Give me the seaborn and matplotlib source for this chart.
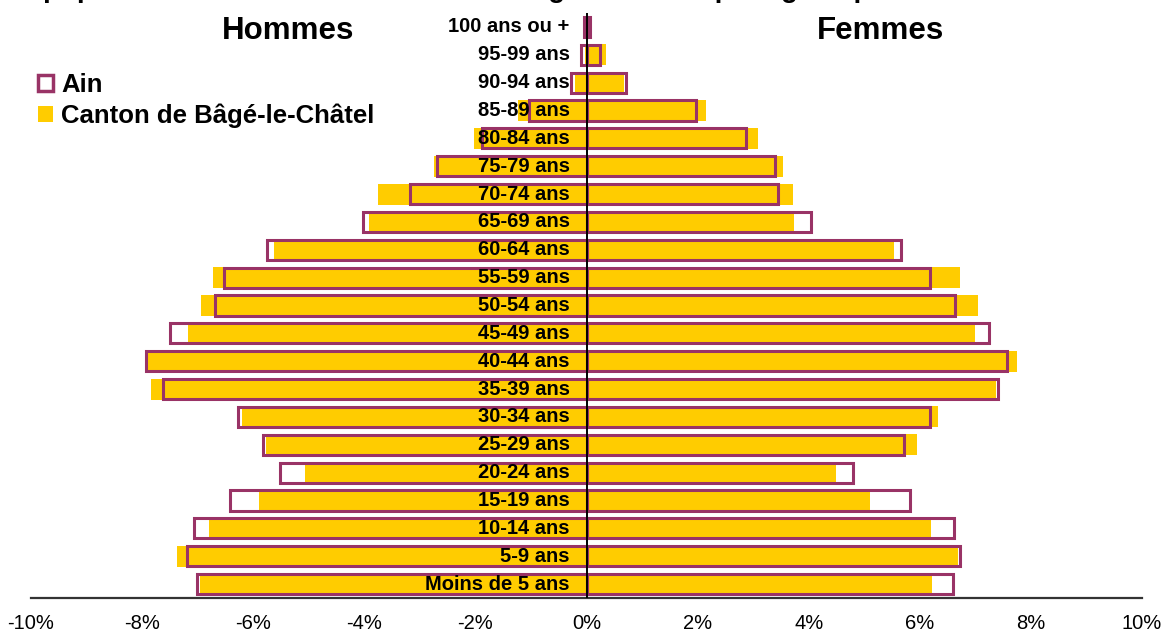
import matplotlib
matplotlib.use("Agg")
import matplotlib.pyplot as plt
from matplotlib.patches import Patch
import seaborn as sns

# Age groups, top to bottom
ages = ["100 ans ou +", "95-99 ans", "90-94 ans", "85-89 ans", "80-84 ans",
        "75-79 ans", "70-74 ans", "65-69 ans", "60-64 ans", "55-59 ans",
        "50-54 ans", "45-49 ans", "40-44 ans", "35-39 ans", "30-34 ans",
        "25-29 ans", "20-24 ans", "15-19 ans", "10-14 ans", "5-9 ans",
        "Moins de 5 ans"]

# Share of population (%)
ain_hommes = [0.05, 0.10, 0.28, 1.04, 1.89, 2.69, 3.17, 4.02, 5.75, 6.52, 6.69,
              7.49, 7.93, 7.63, 6.28, 5.82, 5.52, 6.42, 7.07, 7.19, 7.01]
canton_hommes = [0.0, 0.02, 0.20, 1.24, 2.03, 2.75, 3.75, 3.91, 5.62, 6.73, 6.94,
                 7.18, 7.95, 7.84, 6.21, 5.77, 5.06, 5.90, 6.80, 7.37, 6.95]
ain_femmes = [0.07, 0.25, 0.71, 1.98, 2.87, 3.39, 3.45, 4.04, 5.67, 6.18, 6.63,
              7.25, 7.57, 7.41, 6.18, 5.72, 4.80, 5.83, 6.61, 6.73, 6.59]
canton_femmes = [0.0, 0.35, 0.67, 2.15, 3.09, 3.54, 3.71, 3.74, 5.54, 6.72, 7.05,
                 6.99, 7.75, 7.37, 6.33, 5.95, 4.49, 5.10, 6.20, 6.69, 6.22]

x_ticks = [-10, -8, -6, -4, -2, 0, 2, 4, 6, 8, 10]
x_labels = [f"{t}%" for t in x_ticks]

yellow = "#FFCC00"
purple = "#993366"

sns.set_style("white")
plt.rcParams["font.family"] = ["Liberation Sans", "DejaVu Sans"]
plt.rcParams["text.color"] = "black"
plt.rcParams["xtick.labelcolor"] = "black"

fig = plt.figure(figsize=(11.67, 6.32), dpi=100)
ax = fig.add_axes([31 / 1167, 34 / 632, 1111 / 1167, 585 / 632])

# Canton bars (filled) first, then Ain outlines on top
sns.barplot(x=[-v for v in canton_hommes], y=ages, orient="h", color=yellow,
            width=0.75, errorbar=None, linewidth=0, saturation=1, ax=ax)
sns.barplot(x=canton_femmes, y=ages, orient="h", color=yellow,
            width=0.75, errorbar=None, linewidth=0, saturation=1, ax=ax)
sns.barplot(x=[-v for v in ain_hommes], y=ages, orient="h", color=purple,
            fill=False, width=0.72, errorbar=None, linewidth=2.2, saturation=1, ax=ax)
sns.barplot(x=ain_femmes, y=ages, orient="h", color=purple,
            fill=False, width=0.72, errorbar=None, linewidth=2.2, saturation=1, ax=ax)

ax.axvline(0, color="black", lw=1.4, zorder=5)

for i, lab in enumerate(ages):
    ax.text(-0.3, i, lab, ha="right", va="center", fontsize=14.5,
            fontweight="bold", zorder=6)

ax.set_xlim(-10, 10)
ax.set_ylim(20.5, -0.5)
ax.set_xticks(x_ticks)
ax.set_xticklabels(x_labels, fontsize=14.5)
ax.set_yticks([])
ax.set_xlabel("")
ax.set_ylabel("")
for side in ["left", "top", "right"]:
    ax.spines[side].set_visible(False)
ax.spines["bottom"].set_color("#333333")
ax.spines["bottom"].set_linewidth(1.6)
ax.tick_params(axis="x", direction="out", length=5, width=1.4,
               color="#333333", pad=6.5)

fig.text(288 / 1167, 1 - 31 / 632, "Hommes", ha="center", va="center",
         fontsize=22.5, fontweight="bold")
fig.text(880 / 1167, 1 - 31 / 632, "Femmes", ha="center", va="center",
         fontsize=22.5, fontweight="bold")

# title is cut off at the top of the picture
fig.text(3 / 1167, 1 + 3 / 632,
         "La population de l'Ain et du canton de Bâgé-le-Châtel par âge et par sexe",
         ha="left", va="baseline", fontsize=20, fontweight="bold")

handles = [Patch(facecolor="white", edgecolor=purple, linewidth=2.5, label="Ain"),
           Patch(facecolor=yellow, edgecolor="none", label="Canton de Bâgé-le-Châtel")]
fig.legend(handles=handles, loc="upper left",
           bbox_to_anchor=(38 / 1167, 1 - 73 / 632), frameon=False,
           prop={"size": 18.5, "weight": "bold"}, handlelength=0.6,
           handleheight=0.6, handletextpad=0.3, labelspacing=0.25,
           borderpad=0, borderaxespad=0)

fig.savefig("out.png", dpi=100)
